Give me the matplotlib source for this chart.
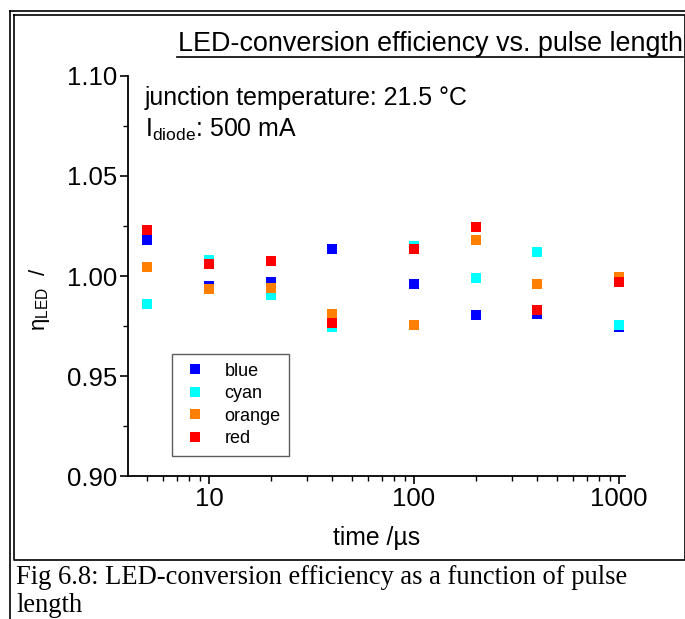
import matplotlib
matplotlib.use("Agg")
import matplotlib.pyplot as plt
from matplotlib.lines import Line2D
from matplotlib.ticker import LogLocator, MultipleLocator, FixedLocator, NullFormatter

plt.rcParams['font.family'] = ['Liberation Sans', 'DejaVu Sans']
plt.rcParams['mathtext.fontset'] = 'custom'
plt.rcParams['mathtext.rm'] = 'Liberation Sans'
plt.rcParams['mathtext.it'] = 'Liberation Sans:italic'

# pulse lengths in microseconds
pulse_us = [5, 10, 20, 40, 100, 200, 400, 1000]

# relative conversion efficiency per LED colour
eta_blue   = [1.018, 0.995, 0.997, 1.0135, 0.996, 0.9805, 0.981, 0.9745]
eta_cyan   = [0.986, 1.008, 0.9905, 0.9745, 1.015, 0.999, 1.012, 0.9755]
eta_orange = [1.0045, 0.9935, 0.994, 0.981, 0.9755, 1.018, 0.996, 0.9995]
eta_red    = [1.023, 1.006, 1.0075, 0.9765, 1.0135, 1.0245, 0.983, 0.997]

series_names = ["blue", "cyan", "orange", "red"]
series_colors = ["#0000ff", "#00ffff", "#ff8000", "#ff0000"]
series_values = [eta_blue, eta_cyan, eta_orange, eta_red]

W, H = 685, 619
fig = plt.figure(figsize=(W / 100, H / 100), dpi=100)

def fx(px):
    return px / W

def fy(py):
    return 1 - py / H

# page frame: outer single line and inner box
fig.add_artist(Line2D([fx(10), fx(10)], [fy(11), fy(619)], color='black', lw=1.2))
fig.add_artist(Line2D([fx(10), fx(685)], [fy(11), fy(11)], color='black', lw=1.2))
fig.add_artist(Line2D([fx(14), fx(685), fx(685), fx(14), fx(14)],
                      [fy(15), fy(15), fy(560), fy(560), fy(15)], color='black', lw=1.2))

ax = fig.add_axes([fx(128), fy(476), fx(625) - fx(128), fy(76) - fy(476)])

for name, col, vals in zip(series_names, series_colors, series_values):
    ax.plot(pulse_us, vals, linestyle='none', marker='s', markersize=6.8,
            markeredgewidth=0, color=col, label=name)

ax.set_xscale('log')
ax.set_xlim(4.03, 1070)
ax.set_ylim(0.90, 1.10)
ax.yaxis.set_major_locator(MultipleLocator(0.05))
ax.yaxis.set_minor_locator(MultipleLocator(0.025))
ax.yaxis.set_major_formatter(matplotlib.ticker.FormatStrFormatter('%.2f'))
ax.xaxis.set_major_locator(FixedLocator([10, 100, 1000]))
ax.xaxis.set_major_formatter(matplotlib.ticker.FuncFormatter(lambda v, p: f"{v:g}"))
ax.xaxis.set_minor_locator(LogLocator(base=10, subs=range(2, 10), numticks=20))
ax.xaxis.set_minor_formatter(NullFormatter())

for s in ['top', 'right']:
    ax.spines[s].set_visible(False)
for s in ['left', 'bottom']:
    ax.spines[s].set_linewidth(1.3)

ax.tick_params(which='major', direction='out', length=6, width=1.2, labelsize=18.5, pad=2)
ax.tick_params(axis='y', which='major', pad=1.5)
ax.tick_params(which='minor', direction='out', length=3.5, width=1.0)

ax.set_xlabel("time /µs", fontsize=17.8)
ax.xaxis.set_label_coords(0.5, -0.125)
ax.set_ylabel("η" + r"$_{\rm LED}$  /", fontsize=16)
ax.yaxis.set_label_coords(-0.153, 0.4425)

ax.text(0.034, 0.945, "junction temperature: 21.5 °C", transform=ax.transAxes,
        fontsize=17.9, ha='left', va='center')
ax.text(0.034, 0.865, r"I$_{\rm diode}$: 500 mA", transform=ax.transAxes,
        fontsize=17.9, ha='left', va='center')

leg = ax.legend(loc='lower left', bbox_to_anchor=(0.0885, 0.05), fontsize=13,
                frameon=True, fancybox=False, handlelength=1.6, handletextpad=0.8,
                borderpad=0.5, labelspacing=0.3, markerscale=1.0, borderaxespad=0)
leg.get_frame().set_edgecolor('#333333')
leg.get_frame().set_linewidth(1.0)

# underlined title
fig.text(fx(683), fy(44), "LED-conversion efficiency vs. pulse length",
         fontsize=19.4, ha='right', va='center')
fig.add_artist(Line2D([fx(177), fx(683)], [fy(57), fy(57)], color='black', lw=1.2))

# caption below the figure box
cap_font = ['Liberation Serif', 'DejaVu Serif']
fig.text(fx(16), fy(578), "Fig 6.8: LED-conversion efficiency as a function of pulse",
         fontsize=19.1, family=cap_font, ha='left', va='center')
fig.text(fx(16), fy(606), "length", fontsize=19.1, family=cap_font, ha='left', va='center')

fig.savefig("out.png", dpi=100)
